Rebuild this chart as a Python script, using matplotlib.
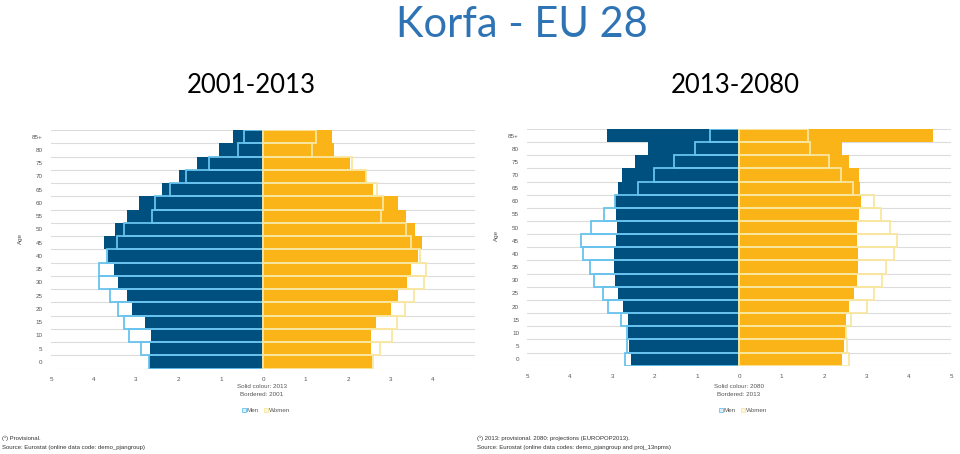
import matplotlib.pyplot as plt
import numpy as np

# age groups, bottom to top
ages = ['0', '5', '10', '15', '20', '25', '30', '35', '40', '45',
        '50', '55', '60', '65', '70', '75', '80', '85+']
tick_labels = ['5', '4', '3', '2', '1', '0', '1', '2', '3', '4', '5']

# 2001-2013 chart (% of total population)
men_2013 = [2.68, 2.66, 2.65, 2.78, 3.10, 3.22, 3.41, 3.51, 3.65, 3.74,
            3.50, 3.20, 2.93, 2.39, 1.98, 1.55, 1.04, 0.71]
men_2001 = [2.70, 2.88, 3.17, 3.27, 3.41, 3.60, 3.87, 3.87, 3.68, 3.44,
            3.29, 2.63, 2.56, 2.20, 1.83, 1.28, 0.60, 0.46]
women_2013 = [2.57, 2.53, 2.53, 2.65, 3.00, 3.18, 3.39, 3.47, 3.65, 3.74,
              3.57, 3.36, 3.18, 2.59, 2.41, 2.05, 1.67, 1.63]
women_2001 = [2.59, 2.75, 3.04, 3.14, 3.33, 3.55, 3.79, 3.83, 3.69, 3.49,
              3.36, 2.77, 2.82, 2.68, 2.41, 2.10, 1.16, 1.24]

# 2013-2080 chart
men_2080 = [2.55, 2.59, 2.63, 2.63, 2.74, 2.86, 2.94, 2.96, 2.95, 2.90,
            2.88, 2.91, 2.92, 2.87, 2.77, 2.45, 2.16, 3.12]
men_2013b = [2.70, 2.65, 2.65, 2.79, 3.10, 3.22, 3.42, 3.51, 3.69, 3.73,
             3.50, 3.20, 2.94, 2.40, 2.00, 1.55, 1.04, 0.70]
women_2080 = [2.42, 2.48, 2.50, 2.52, 2.60, 2.71, 2.78, 2.81, 2.80, 2.77,
              2.77, 2.83, 2.88, 2.85, 2.82, 2.59, 2.42, 4.57]
women_2013b = [2.58, 2.54, 2.52, 2.64, 3.01, 3.18, 3.38, 3.47, 3.66, 3.73,
               3.56, 3.35, 3.17, 2.68, 2.40, 2.11, 1.67, 1.63]

DARK_BLUE = '#00507f'
LIGHT_BLUE = '#68c3ee'
YELLOW = '#fbb417'
LIGHT_YELLOW = '#f8e6a0'
GRID = '#dcdcdc'
TXT = '#555555'

plt.rcParams['font.family'] = ['Liberation Sans', 'DejaVu Sans']

fig = plt.figure(figsize=(9.6, 4.54), dpi=100)


def pyramid(ax, men_solid, men_border, women_solid, women_border, show_five):
    y = np.arange(len(ages))
    ax.barh(y, -np.array(men_solid), height=1, color=DARK_BLUE, zorder=2)
    ax.barh(y, women_solid, height=1, color=YELLOW, zorder=2)
    ax.barh(y, -np.array(men_border), height=1, fill=False,
            edgecolor=LIGHT_BLUE, linewidth=1.3, zorder=3)
    ax.barh(y, women_border, height=1, fill=False,
            edgecolor=LIGHT_YELLOW, linewidth=1.3, zorder=3)
    ax.set_xlim(-5, 5)
    ax.set_ylim(-0.5, len(ages) - 0.5)
    for b in np.arange(-0.5, len(ages), 1):
        ax.axhline(b, color=GRID, linewidth=0.8, zorder=1)
    ticks = np.arange(-5, 6) if show_five else np.arange(-5, 5)
    ax.set_xticks(ticks)
    ax.set_xticklabels(tick_labels[:len(ticks)])
    ax.set_yticks(y)
    ax.set_yticklabels(ages)
    ax.tick_params(length=0, labelsize=4.5, labelcolor=TXT, pad=6)
    for s in ax.spines.values():
        s.set_visible(False)


ax1 = fig.add_axes([0.0531, 0.1883, 0.4422, 0.5253])
pyramid(ax1, men_2013, men_2001, women_2013, women_2001, False)
ax2 = fig.add_axes([0.5493, 0.1945, 0.4414, 0.5214])
pyramid(ax2, men_2080, men_2013b, women_2080, women_2013b, True)

for ax, cx, solid, border in [(ax1, 262, '2013', '2001'), (ax2, 739, '2080', '2013')]:
    fig.text(cx / 960, 1 - 387 / 454, 'Solid colour: ' + solid, ha='center',
             va='center', fontsize=4.5, color=TXT)
    fig.text(cx / 960, 1 - 394 / 454, 'Bordered: ' + border, ha='center',
             va='center', fontsize=4.5, color=TXT)
    # small legend
    fig.patches.append(plt.Rectangle(((cx - 20) / 960, 1 - 412 / 454), 4 / 960, 4 / 454,
                                     transform=fig.transFigure, facecolor='#d8eef9',
                                     edgecolor=LIGHT_BLUE, linewidth=0.6))
    fig.text((cx - 15) / 960, 1 - 410 / 454, 'Men', ha='left', va='center',
             fontsize=4.5, color=TXT)
    fig.patches.append(plt.Rectangle(((cx + 2) / 960, 1 - 412 / 454), 4 / 960, 4 / 454,
                                     transform=fig.transFigure, facecolor='#fdf6dc',
                                     edgecolor=LIGHT_YELLOW, linewidth=0.6))
    fig.text((cx + 7) / 960, 1 - 410 / 454, 'Women', ha='left', va='center',
             fontsize=4.5, color=TXT)

fig.text(20 / 960, 1 - 238 / 454, 'Age', rotation=90, ha='center', va='center',
         fontsize=4.5, color=TXT)
fig.text(496 / 960, 1 - 235 / 454, 'Age', rotation=90, ha='center', va='center',
         fontsize=4.5, color=TXT)

fig.text(2 / 960, 1 - 438 / 454, '(\u00b9) Provisional.', fontsize=4.3, color='#333333',
         va='center')
fig.text(2 / 960, 1 - 447 / 454, 'Source: Eurostat (online data code: demo_pjangroup)',
         fontsize=4.3, color='#333333', va='center')
fig.text(477 / 960, 1 - 438 / 454,
         '(\u00b9) 2013: provisional. 2080: projections (EUROPOP2013).',
         fontsize=4.3, color='#333333', va='center')
fig.text(477 / 960, 1 - 447 / 454,
         'Source: Eurostat (online data codes: demo_pjangroup and proj_13npms)',
         fontsize=4.3, color='#333333', va='center')

fig.text(522 / 960, 1 - 37 / 454, 'Korfa - EU 28', ha='center', va='baseline',
         fontsize=30, color='#2e74b5', family='Lato')
fig.text(251 / 960, 1 - 93 / 454, '2001-2013', ha='center', va='baseline',
         fontsize=18.5, color='black', family='Lato')
fig.text(735 / 960, 1 - 93 / 454, '2013-2080', ha='center', va='baseline',
         fontsize=18.5, color='black', family='Lato')

fig.savefig('out.png', dpi=100)
